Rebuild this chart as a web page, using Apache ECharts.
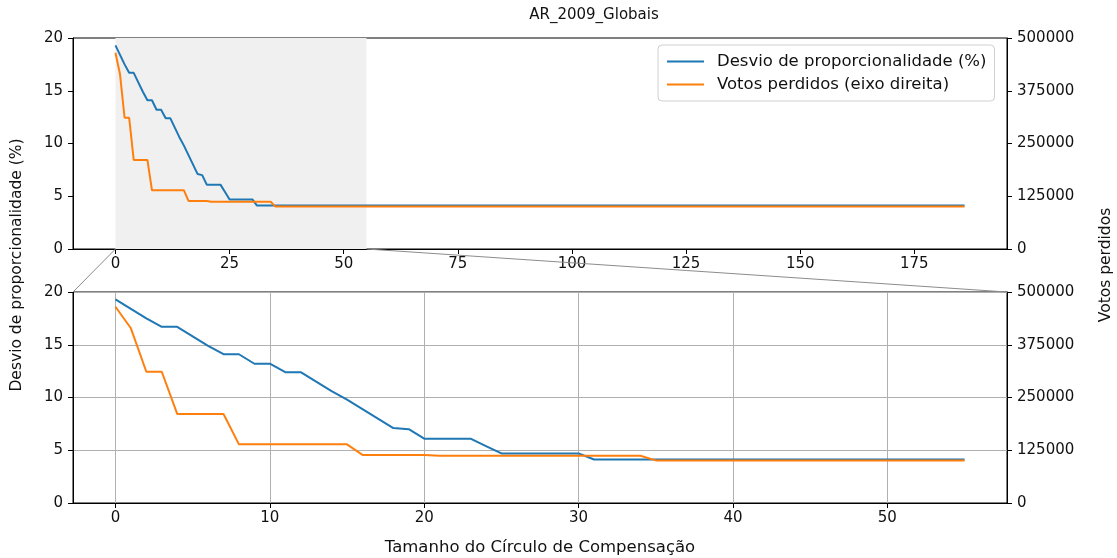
<!DOCTYPE html>
<html><head><meta charset="utf-8">
<script src="https://cdn.jsdelivr.net/npm/echarts@6/dist/echarts.min.js"></script>
<style>html,body{margin:0;padding:0;background:#fff}#c{width:1117px;height:558px}</style>
</head><body><div id="c"></div>
<script>
const chartTitle = 'AR_2009_Globais';
const seriesNames = ['Desvio de proporcionalidade (%)', 'Votos perdidos (eixo direita)'];
const leftAxisName = 'Desvio de proporcionalidade (%)';
const rightAxisName = 'Votos perdidos';
const xAxisName = 'Tamanho do Círculo de Compensação';

const circleSizes = [0,1,2,3,4,5,6,7,8,9,10,11,12,13,14,15,16,17,18,19,20,21,22,23,24,25,26,27,28,29,30,31,32,33,34,35,36,37,38,39,40,41,42,43,44,45,46,47,48,49,50,51,52,53,54,55];
const desvio = [19.3,18.4,17.5,16.7,16.7,15.8,14.9,14.1,14.1,13.2,13.2,12.4,12.4,11.5,10.6,9.8,8.9,8.0,7.1,7.0,6.1,6.1,6.1,6.1,5.4,4.7,4.7,4.7,4.7,4.7,4.7,4.12,4.12,4.12,4.12,4.12,4.12,4.12,4.12,4.12,4.12,4.12,4.12,4.12,4.12,4.12,4.12,4.12,4.12,4.12,4.12,4.12,4.12,4.12,4.12,4.12];
const votos = [465000,414000,311000,311000,211000,211000,211000,211000,139000,139000,139000,139000,139000,139000,139000,139000,114000,114000,114000,114000,114000,112000,112000,112000,112000,112000,112000,112000,112000,112000,112000,112000,112000,112000,112000,101000,101000,101000,101000,101000,101000,101000,101000,101000,101000,101000,101000,101000,101000,101000,101000,101000,101000,101000,101000,101000];
// last point of the full run (flat from 55 to here)
const tailSize = 186;
const tailDesvio = 4.12;
const tailVotos = 101000;

const topXTicks = [0,25,50,75,100,125,150,175];
const bottomXTicks = [0,10,20,30,40,50];
const leftMax = 20, leftStep = 5;
const rightMax = 500000, rightStep = 125000;

const BLUE = '#1f77b4', ORANGE = '#ff7f0e';
const FONT = 'DejaVu Sans';
const TXT = '#111';

const topBlue = circleSizes.map((x,i)=>[x, desvio[i]]).concat([[tailSize, tailDesvio]]);
const topOrange = circleSizes.map((x,i)=>[x, votos[i]]).concat([[tailSize, tailVotos]]);
const botBlue = circleSizes.map((x,i)=>[x, desvio[i]]);
const botOrange = circleSizes.map((x,i)=>[x, votos[i]]);

const zoomEnd = circleSizes[circleSizes.length-1];
const topPad = 0.05 * tailSize;
const botPad = 0.05 * zoomEnd;
const topXMin = -topPad, topXMax = tailSize + topPad;
const botXMin = -botPad, botXMax = zoomEnd + botPad;

const chart = echarts.init(document.getElementById('c'), null, {renderer: 'canvas'});

const gridL = 73, gridR = 110, gridH = 211;
const tickLabel = {color: TXT, fontFamily: FONT, fontSize: 15};

function xAxisCfg(idx, min, max, ticks, split) {
  return {
    type: 'value', gridIndex: idx, min: min, max: max,
    axisLine: {show: true, onZero: false, lineStyle: {color: '#000', width: 1}},
    axisTick: {show: true, inside: false, length: 5, customValues: ticks, lineStyle: {color: '#000'}},
    axisLabel: Object.assign({margin: 8, customValues: ticks}, tickLabel),
    splitLine: {show: split, lineStyle: {color: '#b0b0b0', width: 1}}
  };
}
function yAxisCfg(idx, pos, max, step, split) {
  return {
    type: 'value', gridIndex: idx, position: pos, min: 0, max: max, interval: step,
    axisLine: {show: true, onZero: false, lineStyle: {color: '#000', width: 1}},
    axisTick: {show: true, inside: false, length: 5, lineStyle: {color: '#000'}},
    axisLabel: Object.assign({margin: 10, showMinLabel: true, showMaxLabel: true, formatter: v => String(v)}, tickLabel),
    splitLine: {show: split, lineStyle: {color: '#b0b0b0', width: 1}}
  };
}

const lineBase = {type: 'line', symbol: 'none', animation: false, silent: true};

chart.setOption({
  backgroundColor: '#fff',
  animation: false,
  legend: {
    show: true, orient: 'vertical', left: 658, top: 45,
    data: seriesNames.map(n=>({name: n, icon: 'rect'})),
    itemWidth: 37, itemHeight: 2, itemGap: 6,
    padding: [8, 8, 8, 9],
    borderColor: '#d0d0d0', borderWidth: 1, borderRadius: 4,
    backgroundColor: 'rgba(255,255,255,0.85)',
    textStyle: {color: TXT, fontFamily: FONT, fontSize: 16.5, padding: [0,0,0,8]}
  },
  grid: [
    {left: gridL, right: gridR, top: 38, height: gridH, show: true, borderColor: '#000', borderWidth: 1, backgroundColor: '#fff', containLabel: false, outerBoundsMode: 'none'},
    {left: gridL, right: gridR, top: 292, height: gridH, show: true, borderColor: '#000', borderWidth: 1, backgroundColor: '#fff', containLabel: false, outerBoundsMode: 'none'}
  ],
  xAxis: [
    xAxisCfg(0, topXMin, topXMax, topXTicks, false),
    xAxisCfg(1, botXMin, botXMax, bottomXTicks, true)
  ],
  yAxis: [
    yAxisCfg(0, 'left', leftMax, leftStep, false),
    yAxisCfg(0, 'right', rightMax, rightStep, false),
    yAxisCfg(1, 'left', leftMax, leftStep, true),
    yAxisCfg(1, 'right', rightMax, rightStep, false)
  ],
  series: [
    Object.assign({}, lineBase, {name: seriesNames[0], xAxisIndex: 0, yAxisIndex: 0, data: topBlue,
      lineStyle: {color: BLUE, width: 2}, itemStyle: {color: BLUE}, z: 3,
      markArea: {silent: true, itemStyle: {color: '#f0f0f0'}, data: [[{xAxis: circleSizes[0]}, {xAxis: zoomEnd}]]}}),
    Object.assign({}, lineBase, {name: seriesNames[1], xAxisIndex: 0, yAxisIndex: 1, data: topOrange,
      lineStyle: {color: ORANGE, width: 2}, itemStyle: {color: ORANGE}, z: 4}),
    Object.assign({}, lineBase, {name: seriesNames[0], xAxisIndex: 1, yAxisIndex: 2, data: botBlue,
      lineStyle: {color: BLUE, width: 2}, itemStyle: {color: BLUE}, z: 3}),
    Object.assign({}, lineBase, {name: seriesNames[1], xAxisIndex: 1, yAxisIndex: 3, data: botOrange,
      lineStyle: {color: ORANGE, width: 2}, itemStyle: {color: ORANGE}, z: 4})
  ]
});

// connector lines from the shaded zoom region to the lower panel, plus title and shared axis titles
const a = chart.convertToPixel({xAxisIndex: 0, yAxisIndex: 0}, [circleSizes[0], 0]);
const b = chart.convertToPixel({xAxisIndex: 0, yAxisIndex: 0}, [zoomEnd, 0]);
const c = chart.convertToPixel({xAxisIndex: 1, yAxisIndex: 2}, [botXMin, leftMax]);
const d = chart.convertToPixel({xAxisIndex: 1, yAxisIndex: 2}, [botXMax, leftMax]);
const midX = (c[0] + d[0]) / 2;

chart.setOption({
  graphic: [
    {type: 'line', silent: true, z: 100, shape: {x1: a[0], y1: a[1], x2: c[0], y2: c[1]}, style: {stroke: '#8c8c8c', lineWidth: 1}},
    {type: 'line', silent: true, z: 100, shape: {x1: b[0], y1: b[1], x2: d[0], y2: d[1]}, style: {stroke: '#8c8c8c', lineWidth: 1}},
    {type: 'text', silent: true, x: 594, y: 15,
      style: {text: chartTitle, fill: TXT, font: '15px "DejaVu Sans"', align: 'center', verticalAlign: 'middle'}},
    {type: 'text', silent: true, x: 17, y: 265, rotation: Math.PI/2,
      style: {text: leftAxisName, fill: TXT, font: '15.5px "DejaVu Sans"', align: 'center', verticalAlign: 'middle'}},
    {type: 'text', silent: true, x: 1106, y: 265, rotation: Math.PI/2,
      style: {text: rightAxisName, fill: TXT, font: '15.5px "DejaVu Sans"', align: 'center', verticalAlign: 'middle'}},
    {type: 'text', silent: true, x: midX, y: 548,
      style: {text: xAxisName, fill: TXT, font: '16.5px "DejaVu Sans"', align: 'center', verticalAlign: 'middle'}}
  ]
});
</script>
</body></html>
